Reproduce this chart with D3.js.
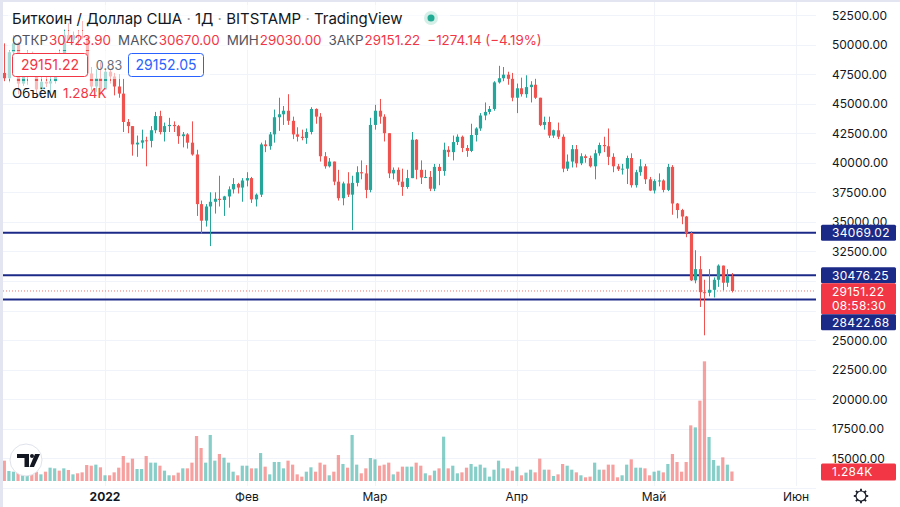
<!DOCTYPE html>
<html><head><meta charset="utf-8">
<script src="https://cdn.jsdelivr.net/npm/d3@7"></script>
<style>html,body{margin:0;padding:0;background:#fff;}svg{display:block;font-family:Inter,"Noto Sans",sans-serif;}</style>
</head><body><svg id="c" width="900" height="507"></svg>
<script>
// ---- data ----
const startDate = "2021-12-10";
const opens  = [47600,47150,49350,50100,46700,48400,48900,47650,46200,46850,46700,46900,48950,48600,50800,50400,50800,50700,50650,47550,46450,47150,
 46200,47700,47300,46450,45850,43450,43100,41550,41700,41900,41850,42750,43950,42600,43100,43200,43100,42250,42400,41700,40700,36500,35100,36300,36700,36950,36850,37150,37750,38200,37900,
 38500,38700,36900,37300,41550,41400,42400,43850,44100,44400,43550,42400,42200,42100,42600,44550,43900,40550,39700,40100,38400,37000,38250,37300,38300,39200,39100,37700,
 43200,44400,43900,42500,39100,39400,38400,37950,38700,41950,39400,38750,38800,37800,39650,39300,41100,40900,41750,42200,41250,41000,42350,42900,44000,44300,44550,46800,47150,47450,47100,
 45500,46300,45800,46400,46600,45500,43200,43450,42300,42750,42200,39500,40100,41150,39950,40550,40400,39700,40800,41500,41400,40500,39700,39450,39500,40400,38100,39200,39700,38600,
 37650,38450,38500,37700,39650,36550,36000,35450,34050,30050,31000,29050,29000,29250,30100,31300,29850,30423.9];
const highs  = [50100,49500,50800,50200,48700,49500,49400,47900,47300,48300,47500,49300,49600,51300,51800,51100,51200,52000,50700,48100,47900,48500,
 47900,47900,47600,47500,47100,43700,43100,42300,42800,42200,43100,44300,44400,43400,43800,43500,43200,42600,42500,43500,41100,36800,36500,37500,37500,38900,37200,38000,38700,38300,38700,
 39200,38800,37400,41700,41900,42600,44500,45500,44800,45800,43900,43000,42800,42900,44700,44600,44200,40900,40400,40100,39400,38400,39200,38900,39700,40200,39800,43800,
 44900,45400,44100,42500,39600,39600,39500,39400,42600,42000,40200,39400,39300,39900,39900,41700,41400,42300,42400,42300,41500,43300,43000,44200,45100,44800,46900,48200,48100,47700,47600,
 46700,47200,47400,46900,47100,45500,43900,43900,42800,43400,42400,40700,41500,41500,40800,40700,40600,41100,41700,42200,42900,40800,39900,39900,40600,40800,39400,40300,39900,38800,
 38600,39100,38600,39900,39800,36600,36100,35500,34200,32600,32100,30100,31000,30300,31400,31300,31000,30670];
const lows   = [46900,46800,48700,45800,46500,46600,47600,45500,45600,46400,45600,46700,48500,48100,50400,50200,49900,50500,47400,46100,46000,45700,
 46200,46700,45700,45500,42600,42500,40600,40500,41200,39700,41300,42500,42400,41800,42600,42600,41600,41300,41200,40600,35500,34000,34600,32950,35700,36300,35500,36200,37400,37400,36700,
 38000,36600,36300,37100,40900,41100,41700,42700,43200,43200,42000,41800,41900,41600,42400,43300,40100,39500,39600,38100,36800,36400,37100,34300,38000,38600,37000,37500,
 42800,43300,41800,38700,38600,38100,37200,37800,38700,38600,38200,38700,37600,37600,38100,38900,40500,40200,41500,40900,40500,40900,41800,42700,43600,44100,44400,46700,46900,46600,45200,
 44200,45600,45500,45100,45400,43100,42800,42100,42100,42000,39200,39300,39600,39600,39800,40000,39600,38600,40600,40900,39800,39200,39300,39000,38200,37900,37900,38900,38200,37600,
 37400,38000,37500,37600,35600,35300,34800,33700,30000,29800,27800,25400,28700,28600,29500,29200,29500,29030];
const closes = [47150,49350,50100,46700,48400,48900,47650,46200,46850,46700,46900,48950,48600,50800,50400,50800,50700,50650,47550,46450,47150,46200,
 47700,47300,46450,45850,43450,43100,41550,41700,41900,41850,42750,43950,42600,43100,43200,43100,42250,42400,41700,40700,36500,35100,36300,36700,36950,36850,37150,37750,38200,37900,38500,
 38700,36900,37300,41550,41400,42400,43850,44100,44400,43550,42400,42200,42100,42600,44550,43900,40550,39700,40100,38400,37000,38250,37300,38300,39200,39100,37700,43200,
 44400,43900,42500,39100,39400,38400,37950,38700,41950,39400,38750,38800,37800,39650,39300,41100,40900,41750,42200,41250,41000,42350,42900,44000,44300,44550,46800,47150,47450,47100,45500,
 46300,45800,46400,46600,45500,43200,43450,42300,42750,42200,39500,40100,41150,39950,40550,40400,39700,40800,41500,41400,40500,39700,39450,39500,40400,38100,39200,39700,38600,37650,
 38450,38500,37700,39650,36550,36000,35450,34050,30050,31000,29050,29000,29250,30100,31300,29850,30400,29151.22];
// volume, thousands of BTC
const volumes = [2.75,1.35,1.26,1.13,0.81,0.81,1.04,1.26,0.9,1.26,1.8,1.71,1.4,1.71,1.49,0.9,1.04,1.17,2.16,2.07,2.21,1.85,
 0.77,0.77,1.17,1.8,3.38,2.48,3.02,1.62,1.62,3.38,2.48,2.48,2.07,1.4,0.77,0.77,1.13,1.71,1.71,2.48,6.08,4.46,2.48,6.22,2.75,3.65,3.15,2.48,1.26,0.77,2.07,
 2.07,1.71,1.71,3.78,1.94,0.9,2.57,2.57,1.71,2.75,2.21,0.9,0.59,1.26,1.85,1.26,2.48,2.21,0.77,1.26,3.51,2.3,1.8,6.22,2.21,1.04,1.71,3.11,
 2.93,2.07,2.21,2.48,0.9,1.26,1.94,1.94,1.94,2.48,2.07,1.04,0.77,1.4,1.71,5.99,1.71,2.07,1.04,1.17,1.8,2.3,1.94,2.21,1.8,0.59,1.53,2.75,1.71,1.71,1.4,
 1.94,0.77,1.13,1.53,1.17,3.02,1.53,1.53,0.68,0.9,2.3,2.07,1.53,1.17,0.77,0.5,0.59,2.48,1.53,1.53,2.21,2.21,0.5,0.77,2.21,2.93,1.8,1.8,1.71,0.77,
 1.26,1.4,1.17,2.3,3.65,2.57,1.26,2.57,7.52,7.25,10.86,16.17,5.95,2.84,2.07,3.2,2.21,1.284];
const levels = [34069.02, 30476.25, 28422.68];
const lastPrice = 29151.22;
const priceTicks = [52500,50000,47500,45000,42500,40000,37500,35000,32500,30000,27500,25000,22500,20000,17500,15000];
const monthTicks = ["2022-01-01","2022-02-01","2022-03-01","2022-04-01","2022-05-01","2022-06-01"];
const monthLabels = ["2022","Фев","Мар","Апр","Май","Июн"];
const ohlcLabels = ["ОТКР","МАКС","МИН","ЗАКР"];
const ohlcValues = ["30423.90","30670.00","29030.00","29151.22"];
const changeText = "−1274.14 (−4.19%)";

// ---- layout ----
const svg = d3.select("#c");
const W = 900, H = 507, plotR = 816;
const GREEN = "#26a69a", RED = "#ef5350", NAVY = "#1c2a87", TXT = "#131722";
const parse = d3.utcParse("%Y-%m-%d");
const dates = closes.map((_, i) => d3.utcDay.offset(parse(startDate), i));
const x = d3.scaleUtc().domain([parse("2022-01-01"), parse("2022-06-01")]).range([105, 796]);
const y = d3.scaleLinear().domain([15000, 52500]).range([458.25, 15]);
const yv = d3.scaleLinear().domain([0, 20]).range([481, 333]);

svg.append("rect").attr("width", W).attr("height", H).attr("fill", "#fff");

// grid
svg.append("g").selectAll("line").data(priceTicks.concat([12500])).join("line")
  .attr("x1", 0).attr("x2", plotR).attr("y1", d => Math.round(y(d)) + 0.5).attr("y2", d => Math.round(y(d)) + 0.5)
  .attr("stroke", "#f0f3fa").attr("stroke-width", 1);
svg.append("g").selectAll("line").data(monthTicks).join("line")
  .attr("x1", d => Math.round(x(parse(d))) + 0.5).attr("x2", d => Math.round(x(parse(d))) + 0.5)
  .attr("y1", 0).attr("y2", 486).attr("stroke", "#f0f3fa");

const plot = svg.append("g");
// volume bars
const up = i => closes[i] >= opens[i];
plot.append("g").selectAll("rect").data(volumes).join("rect")
  .attr("x", (d, i) => x(dates[i]) - 1.6).attr("width", 3.2)
  .attr("y", d => yv(d)).attr("height", d => yv(0) - yv(d))
  .attr("fill", (d, i) => up(i) ? GREEN : RED).attr("opacity", 0.55);

// levels
plot.append("g").selectAll("line").data(levels).join("line")
  .attr("x1", 0).attr("x2", plotR + 5).attr("y1", d => y(d)).attr("y2", d => y(d))
  .attr("stroke", NAVY).attr("stroke-width", 2);
// last price dotted
plot.append("line").attr("x1", 0).attr("x2", plotR + 5).attr("y1", y(lastPrice)).attr("y2", y(lastPrice))
  .attr("stroke", RED).attr("stroke-width", 1).attr("stroke-dasharray", "1,2").attr("opacity", 0.8);

// candles
const cg = plot.append("g");
cg.selectAll("line").data(closes).join("line")
  .attr("x1", (d, i) => Math.round(x(dates[i])) + 0.5).attr("x2", (d, i) => Math.round(x(dates[i])) + 0.5)
  .attr("y1", (d, i) => y(highs[i])).attr("y2", (d, i) => y(lows[i]))
  .attr("stroke", (d, i) => up(i) ? GREEN : RED).attr("stroke-width", 1);
cg.selectAll("rect").data(closes).join("rect")
  .attr("x", (d, i) => Math.round(x(dates[i])) + 0.5 - 1.6).attr("width", 3.2)
  .attr("y", (d, i) => y(Math.max(opens[i], closes[i])))
  .attr("height", (d, i) => Math.max(1, Math.abs(y(opens[i]) - y(closes[i]))))
  .attr("fill", (d, i) => up(i) ? GREEN : RED);

// legend backdrop
const lg = svg.append("g");
[[8,5,442,25],[8,31,535,19],[8,51,202,28],[8,81,104,20]].forEach(r =>
  lg.append("rect").attr("x", r[0]).attr("y", r[1]).attr("width", r[2]).attr("height", r[3]).attr("fill", "#fff").attr("opacity", 0.6));

// title
const t1 = lg.append("text").attr("x", 12).attr("y", 24).attr("font-size", 15).attr("fill", TXT);
t1.append("tspan").text("Биткоин / Доллар США ");
t1.append("tspan").attr("fill", "#9598a1").text("·");
t1.append("tspan").text(" 1Д ");
t1.append("tspan").attr("fill", "#9598a1").text("·");
t1.append("tspan").text(" BITSTAMP ");
t1.append("tspan").attr("fill", "#9598a1").text("·");
t1.append("tspan").text(" TradingView");
lg.append("circle").attr("cx", 431).attr("cy", 18).attr("r", 7).attr("fill", "#d4efe8");
lg.append("circle").attr("cx", 431).attr("cy", 18).attr("r", 3.5).attr("fill", "#22ab94");

// OHLC row
const t2 = lg.append("text").attr("x", 12).attr("y", 45).attr("font-size", 13.4).attr("fill", "#50535e");
ohlcLabels.forEach((lab, k) => {
  t2.append("tspan").attr("dx", k === 0 ? 0 : 7).attr("fill", "#50535e").text(lab);
  t2.append("tspan").attr("dx", 1).attr("fill", "#f23645").text(ohlcValues[k]);
});
t2.append("tspan").attr("dx", 7).attr("fill", "#f23645").text(changeText);

// price boxes row
lg.append("rect").attr("x", 12.5).attr("y", 53.5).attr("width", 75).attr("height", 23).attr("rx", 3).attr("fill", "#fff").attr("stroke", "#f23645");
lg.append("text").attr("x", 50).attr("y", 70).attr("text-anchor", "middle").attr("font-size", 14).attr("fill", "#f23645").text("29151.22");
lg.append("text").attr("x", 109).attr("y", 70).attr("text-anchor", "middle").attr("font-size", 12.5).attr("fill", "#6a6d78").text("0.83");
lg.append("rect").attr("x", 128.5).attr("y", 53.5).attr("width", 75).attr("height", 23).attr("rx", 3).attr("fill", "#fff").attr("stroke", "#2962ff");
lg.append("text").attr("x", 166).attr("y", 70).attr("text-anchor", "middle").attr("font-size", 14).attr("fill", "#2962ff").text("29152.05");
// volume row
lg.append("text").attr("x", 12).attr("y", 98).attr("font-size", 13.4).attr("fill", TXT).text("Объём");
lg.append("text").attr("x", 63).attr("y", 98).attr("font-size", 13.4).attr("fill", "#f23645").text("1.284K");

// TV logo
const logo = svg.append("g");
logo.append("circle").attr("cx", 26).attr("cy", 460).attr("r", 16).attr("fill", "#fff").attr("stroke", "#e0e3eb");
logo.append("path").attr("d", "M17,454 H29 V467 H24.5 V458 H17 Z").attr("fill", "#131722");
logo.append("circle").attr("cx", 32).attr("cy", 456).attr("r", 2).attr("fill", "#131722");
logo.append("path").attr("d", "M35,454 H40 L34,467 H29.5 Z").attr("fill", "#131722");

// right axis
const ax = svg.append("g");
ax.append("rect").attr("x", plotR).attr("y", 0).attr("width", W - plotR).attr("height", H).attr("fill", "#fff");

const boxes = [
  {top: y(levels[0]) - 8, fill: NAVY, lines: [levels[0].toFixed(2)]},
  {top: y(levels[1]) - 8, fill: NAVY, lines: [levels[1].toFixed(2)]},
  {top: y(levels[1]) + 8, fill: "#f23645", lines: [lastPrice.toFixed(2), "08:58:30"]},
  {top: y(levels[1]) + 39, fill: NAVY, lines: [levels[2].toFixed(2)]}];
boxes.forEach(b => b.h = b.lines.length === 1 ? 16 : 31);
// tick labels hidden where a price box sits on them (as in the reference)
const visibleTicks = priceTicks.filter(t => !boxes.some(b => y(t) > b.top && y(t) < b.top + b.h));
ax.selectAll("text.tick").data(visibleTicks).join("text").attr("class", "tick")
  .attr("x", 832).attr("y", d => y(d) + 4.5).attr("font-size", 12).attr("fill", TXT)
  .text(d => d3.format(".2f")(d));

boxes.forEach(b => {
  ax.append("rect").attr("x", 821).attr("y", b.top).attr("width", 75).attr("height", b.h).attr("rx", 1.5).attr("fill", b.fill);
  b.lines.forEach((s, k) => ax.append("text").attr("x", 832).attr("y", b.top + 12.3 + k * 14.5)
    .attr("font-size", 12).attr("fill", "#fff").attr("letter-spacing", 0.3).text(s));
});
// volume label
const vLast = volumes[volumes.length - 1];
ax.append("rect").attr("x", 821).attr("y", yv(vLast) - 8).attr("width", 75).attr("height", 17).attr("rx", 1.5).attr("fill", "#f23645");
ax.append("text").attr("x", 832).attr("y", yv(vLast) + 4.5).attr("font-size", 12).attr("fill", "#fff").attr("letter-spacing", 0.3).text(vLast.toFixed(3) + "K");

// bottom axis
svg.append("g").selectAll("text").data(monthTicks).join("text")
  .attr("x", d => x(parse(d))).attr("y", 501).attr("text-anchor", "middle")
  .attr("font-size", 12).attr("fill", TXT).attr("font-weight", (d, i) => i === 0 ? 700 : 400)
  .text((d, i) => monthLabels[i]);

// gear
const gear = svg.append("g").attr("transform", "translate(861,496)");
gear.append("circle").attr("r", 5).attr("fill", "none").attr("stroke", TXT).attr("stroke-width", 1.2);
d3.range(8).forEach(k => gear.append("line").attr("x1", 0).attr("y1", -5).attr("x2", 0).attr("y2", -7.2)
  .attr("stroke", TXT).attr("stroke-width", 1.8).attr("transform", `rotate(${k * 45})`));

// window border
svg.append("rect").attr("x", 0).attr("y", 0).attr("width", 3).attr("height", H).attr("fill", "#e3e5f0");
svg.append("rect").attr("x", 0).attr("y", 0).attr("width", W).attr("height", 2).attr("fill", "#e3e5f0");
</script></body></html>
